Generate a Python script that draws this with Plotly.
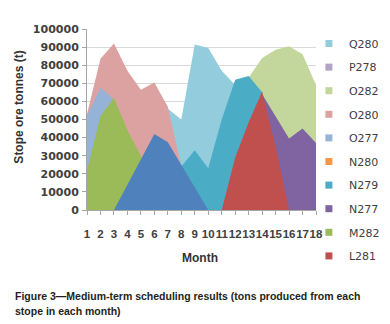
import plotly.graph_objects as go

months = list(range(1, 19))
month_labels = [str(m) for m in months]

# Series values (tonnes per month)
K280 = [0, 0, 0, 14000, 28000, 42000, 37500, 25000, 12500, 0, 0, 0, 0, 0, 0, 0, 0, 0]
L281 = [0, 0, 0, 0, 0, 0, 0, 0, 0, 0, 0, 29000, 48500, 65500, 35000, 0, 0, 0]
M282 = [22000, 52000, 62000, 44000, 30000, 0, 0, 0, 0, 0, 0, 0, 0, 0, 0, 0, 0, 0]
N277 = [0, 0, 0, 0, 0, 0, 0, 0, 0, 0, 0, 0, 0, 64000, 52000, 39500, 45000, 37000]
N279 = [0, 0, 0, 0, 0, 0, 0, 24000, 33000, 23000, 50000, 72000, 74000, 65000, 0, 0, 0, 0]
N280 = [0] * 18
O277 = [52000, 67500, 61000, 0, 0, 0, 0, 0, 0, 0, 0, 0, 0, 0, 0, 0, 0, 0]
O280 = [53000, 83500, 92000, 77000, 66500, 70500, 57000, 24000, 0, 0, 0, 0, 0, 0, 0, 0, 0, 0]
O282 = [0, 0, 0, 0, 0, 0, 0, 0, 0, 0, 0, 55000, 73000, 84000, 88500, 90500, 86000, 69000]
P278 = [0] * 18
Q280 = [0, 0, 0, 0, 0, 0, 56000, 50000, 91500, 89500, 77000, 69000, 0, 0, 0, 0, 0, 0]

# back-to-front drawing order (first listed = furthest back)
series_names = ["Q280", "P278", "O282", "O280", "O277", "N280", "N279", "N277", "M282", "L281", "K280"]
series_values = [Q280, P278, O282, O280, O277, N280, N279, N277, M282, L281, K280]
series_colors = ["#93CDDD", "#B3A2C7", "#C3D69B", "#DCA2A1", "#95B3D7", "#F79646",
                 "#4BACC6", "#8064A2", "#9BBB59", "#C0504D", "#4F81BD"]
in_legend = [True] * 10 + [False]

fig = go.Figure()
for name, vals, col in zip(series_names, series_values, series_colors):
    fig.add_trace(go.Scatter(
        x=months, y=vals, name=name, mode="lines", fill="tozeroy",
        line=dict(width=0, color=col), fillcolor=col, showlegend=False,
    ))
# legend entries (square markers)
for name, col, show in zip(series_names, series_colors, in_legend):
    if show:
        fig.add_trace(go.Scatter(
            x=[None], y=[None], mode="markers", name=name, legendgroup=name,
            marker=dict(symbol="square", size=7, color=col),
        ))

axis_col = "#A6A6A6"
# the page body adds an 8px offset, so the figure is 8px smaller on each axis
fig.update_layout(
    width=382, height=316,
    margin=dict(l=79, r=74, t=21, b=114, autoexpand=False),
    paper_bgcolor="white", plot_bgcolor="white",
    font=dict(family="DejaVu Sans", color="#404040"),
    showlegend=True,
    legend=dict(
        x=0.969, xanchor="left", y=1.0, yanchor="top",
        traceorder="grouped", tracegroupgap=4.6, maxheight=280,
        font=dict(family="DejaVu Sans", size=11, color="#404040"),
        bgcolor="rgba(0,0,0,0)",
    ),
    xaxis=dict(
        range=[1, 18], tickmode="array", tickvals=months, ticktext=month_labels,
        tickangle=0, ticks="outside", ticklen=4, tickcolor=axis_col,
        showline=True, linecolor=axis_col, showgrid=False, zeroline=False,
        tickfont=dict(family="Liberation Sans", size=11.5, color="#404040", weight="bold"),
        ticklabelstandoff=9,
    ),
    yaxis=dict(
        range=[0, 100000], dtick=10000, tickformat="d",
        ticks="outside", ticklen=4, tickcolor=axis_col,
        showline=True, linecolor=axis_col, gridcolor="#D9D9D9", zeroline=False,
        tickfont=dict(family="DejaVu Sans", size=11, color="#404040", weight="bold"),
        ticklabelstandoff=1,
    ),
    annotations=[
        dict(text="<b>Stope ore tonnes (t)</b>", xref="paper", yref="paper",
             x=-0.301, y=0.566, xanchor="center", yanchor="middle", textangle=-90,
             showarrow=False, font=dict(family="Liberation Sans", size=12, color="#333333")),
        dict(text="<b>Month</b>", xref="paper", yref="paper",
             x=0.493, y=-0.265, xanchor="center", yanchor="middle",
             showarrow=False, font=dict(family="Liberation Sans", size=12, color="#333333")),
        dict(text="<b>Figure 3—Medium-term scheduling results (tons produced from each</b>",
             xref="paper", yref="paper", x=-0.323, y=-0.475, xanchor="left", yanchor="middle",
             showarrow=False, font=dict(family="Liberation Sans", size=10.5, color="#231F20")),
        dict(text="<b>stope in each month)</b>",
             xref="paper", yref="paper", x=-0.323, y=-0.556, xanchor="left", yanchor="middle",
             showarrow=False, font=dict(family="Liberation Sans", size=10.5, color="#231F20")),
    ],
)

fig.write_html("out.html")
